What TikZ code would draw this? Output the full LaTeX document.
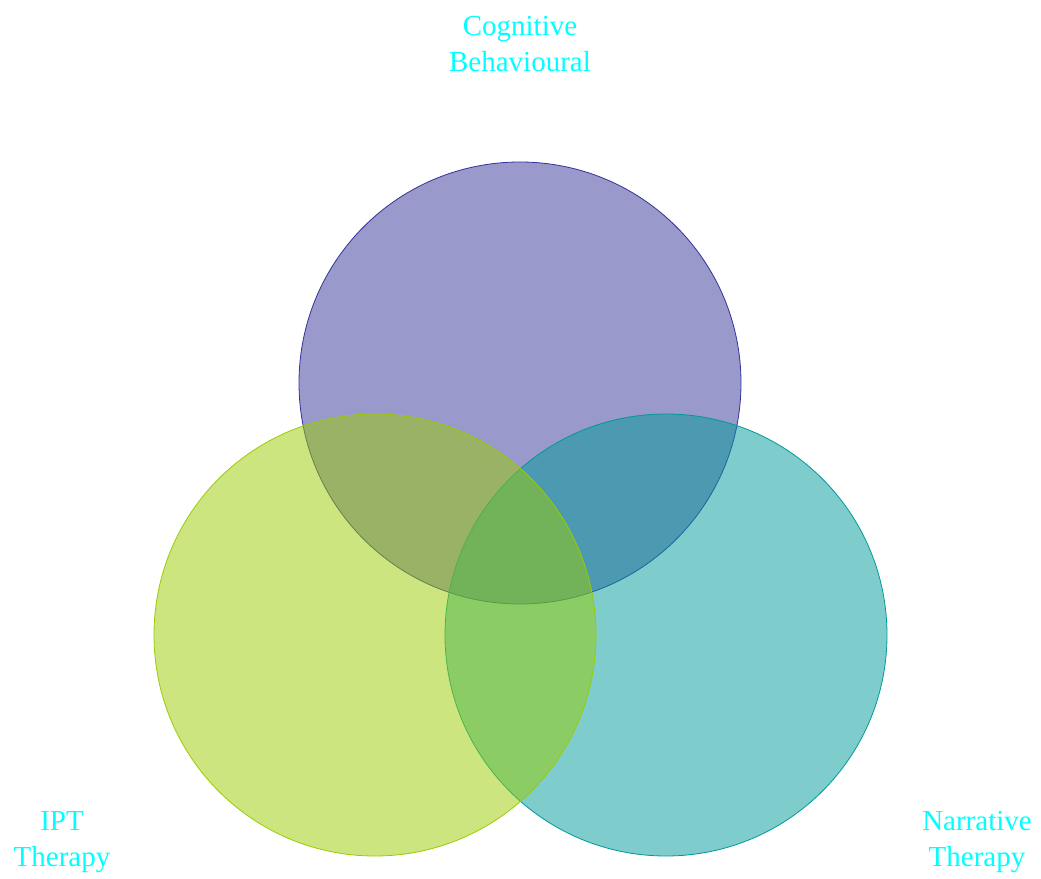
\documentclass[tikz,border=0pt]{standalone}
\usepackage{fontspec}
\setmainfont{Liberation Serif}
\usetikzlibrary{positioning}
\definecolor{cbtcol}{RGB}{51,51,153}
\definecolor{iptcol}{RGB}{153,204,0}
\definecolor{narrcol}{RGB}{0,153,153}
\definecolor{lblcol}{RGB}{0,255,255}
\begin{document}
\begin{tikzpicture}[x=1pt,y=1pt,
    venn/.style={circle,inner sep=0pt,outer sep=0pt,minimum size=442pt,line width=0.8pt,fill opacity=0.5},
    lbl/.style={align=center,text=lblcol,inner sep=0pt,font=\fontsize{29}{36}\selectfont}]
    \useasboundingbox (0,0) rectangle (1041,878);
    % circles
    \node[venn,draw=cbtcol,fill=cbtcol] (cbt) at (520,495) {};
    \node[venn,draw=narrcol,fill=narrcol] (narr) at (666,243) {};
    \node[venn,draw=iptcol,fill=iptcol] (ipt) at (375,243) {};
    % labels
    \node[lbl] (cbtlbl) at (520,834) {Cognitive\\Behavioural};
    \node[lbl] (iptlbl) at (62,36) {IPT\\Therapy};
    \node[lbl] (narrlbl) at (977,36) {Narrative\\Therapy};
\end{tikzpicture}
\end{document}
